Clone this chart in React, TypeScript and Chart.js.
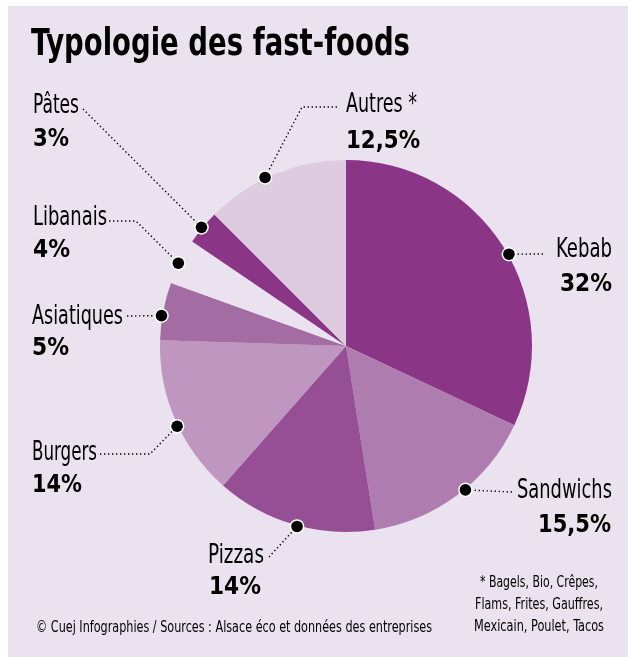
import React, { useEffect, useRef } from 'react';
import { Chart, registerables } from 'chart.js';

Chart.register(...registerables);

// ---- data ----
const title = 'Typologie des fast-foods';
const categories = ['Kebab', 'Sandwichs', 'Pizzas', 'Burgers', 'Asiatiques', 'Libanais', 'Pâtes', 'Autres *'];
const shares = [32, 15.5, 14, 14, 5, 4, 3, 12.5];
const shareLabels = ['32%', '15,5%', '14%', '14%', '5%', '4%', '3%', '12,5%'];
const footnoteLines = ['* Bagels, Bio, Crêpes,', 'Flams, Frites, Gauffres,', 'Mexicain, Poulet, Tacos'];
const sourceText = '© Cuej Infographies / Sources : Alsace éco et données des entreprises';

// ---- styles / layout ----
const sliceColors = ['#8A3586', '#AE7CAE', '#964F95', '#BE96C0', '#A36CA3', '#EAE2EE', '#8A3586', '#DDCBE0'];
const BG = '#EAE2EE';
const COND = "'Liberation Sans Narrow', 'DejaVu Sans Condensed', 'Liberation Sans', sans-serif";

type Lay = {
  align: 'left' | 'right';
  x: number; nameY: number; nameW: number;
  pctX: number; pctY: number; pctW: number;
  t: number; // fraction along the slice arc for the dot
  path: number[][]; // leader points from text to dot
};

const labelLayout: Lay[] = [
  { align: 'right', x: 612, nameY: 257, nameW: 56, pctX: 612, pctY: 291, pctW: 52, t: 0.526, path: [[543, 254]] },
  { align: 'right', x: 612, nameY: 498, nameW: 95, pctX: 611, pctY: 532, pctW: 73, t: 0.45, path: [[512, 492]] },
  { align: 'left', x: 208, nameY: 563, nameW: 56, pctX: 209, pctY: 594, pctW: 52, t: 0.48, path: [[269, 557]] },
  { align: 'left', x: 32, nameY: 460, nameW: 65, pctX: 32, pctY: 492, pctW: 50, t: 0.46, path: [[100, 454], [150, 454]] },
  { align: 'left', x: 32, nameY: 324, nameW: 91, pctX: 32, pctY: 355, pctW: 37, t: 0.42, path: [[127, 316]] },
  { align: 'left', x: 33, nameY: 225, nameW: 74, pctX: 33, pctY: 257, pctW: 37, t: 0.45, path: [[109, 221], [136, 221]] },
  { align: 'left', x: 33, nameY: 113, nameW: 46, pctX: 33, pctY: 146, pctW: 36, t: 0.48, path: [[83, 109]] },
  { align: 'left', x: 346, nameY: 112, nameW: 71, pctX: 346, pctY: 148, pctW: 74, t: 0.43, path: [[337, 107], [302, 107]] },
];

function drawFitted(
  ctx: CanvasRenderingContext2D, text: string, x: number, y: number,
  font: string, width: number, align: 'left' | 'right' | 'center'
) {
  ctx.save();
  ctx.font = font;
  ctx.textAlign = 'left';
  ctx.textBaseline = 'alphabetic';
  const m = ctx.measureText(text).width || 1;
  const s = width / m;
  const left = align === 'right' ? x - width : align === 'center' ? x - width / 2 : x;
  ctx.translate(left, y);
  ctx.scale(s, 1);
  ctx.fillStyle = '#000';
  ctx.fillText(text, 0, 0);
  ctx.restore();
}

const backgroundPlugin = {
  id: 'panelBg',
  beforeDraw(chart: any) {
    const ctx: CanvasRenderingContext2D = chart.ctx;
    ctx.save();
    ctx.fillStyle = '#ffffff';
    ctx.fillRect(0, 0, chart.width, chart.height);
    ctx.fillStyle = BG;
    ctx.fillRect(8, 6, chart.width - 8, chart.height - 6);
    ctx.restore();
  },
};

const annotationPlugin = {
  id: 'annotations',
  afterDraw(chart: any) {
    const ctx: CanvasRenderingContext2D = chart.ctx;
    const meta = chart.getDatasetMeta(0);

    // title
    drawFitted(ctx, title, 31, 55, `bold 37px ${COND}`, 379, 'left');

    // dots positions
    const dots = meta.data.map((arc: any, i: number) => {
      const p = arc.getProps(['x', 'y', 'startAngle', 'endAngle', 'outerRadius'], true);
      const a = p.startAngle + (p.endAngle - p.startAngle) * labelLayout[i].t;
      const r = p.outerRadius + 1;
      return [p.x + Math.cos(a) * r, p.y + Math.sin(a) * r];
    });

    // leader lines
    ctx.save();
    ctx.strokeStyle = '#000';
    ctx.lineWidth = 1.4;
    ctx.setLineDash([1.4, 2.6]);
    labelLayout.forEach((L, i) => {
      const pts = [...L.path, dots[i]];
      ctx.beginPath();
      ctx.moveTo(pts[0][0], pts[0][1]);
      for (let k = 1; k < pts.length; k++) ctx.lineTo(pts[k][0], pts[k][1]);
      ctx.stroke();
    });
    ctx.restore();

    // dots
    dots.forEach((d: number[]) => {
      ctx.save();
      ctx.beginPath();
      ctx.arc(d[0], d[1], 7.3, 0, Math.PI * 2);
      ctx.fillStyle = '#ffffff';
      ctx.fill();
      ctx.beginPath();
      ctx.arc(d[0], d[1], 5.8, 0, Math.PI * 2);
      ctx.fillStyle = '#000000';
      ctx.fill();
      ctx.restore();
    });

    // labels
    labelLayout.forEach((L, i) => {
      drawFitted(ctx, categories[i], L.x, L.nameY, `26px ${COND}`, L.nameW, L.align);
      drawFitted(ctx, shareLabels[i], L.pctX, L.pctY, `bold 25px ${COND}`, L.pctW, L.align);
    });

    // footnote & source
    const fnWidths = [118, 128, 130];
    footnoteLines.forEach((line, k) => {
      drawFitted(ctx, line, 539, 587 + k * 22, `16px ${COND}`, fnWidths[k], 'center');
    });
    drawFitted(ctx, sourceText, 36, 632, `16px ${COND}`, 396, 'left');
  },
};

export default function App() {
  const ref = useRef<HTMLCanvasElement | null>(null);
  useEffect(() => {
    if (!ref.current) return;
    const chart = new Chart(ref.current, {
      type: 'pie',
      data: {
        labels: categories,
        datasets: [
          {
            data: shares,
            backgroundColor: sliceColors,
            borderWidth: 0,
            hoverOffset: 0,
          },
        ],
      },
      options: {
        responsive: false,
        animation: false,
        events: [],
        layout: { padding: { left: 160, right: 96, top: 160, bottom: 125 } },
        plugins: {
          legend: { display: false },
          tooltip: { enabled: false },
          title: { display: false },
        },
      },
      plugins: [backgroundPlugin, annotationPlugin],
    });
    return () => chart.destroy();
  }, []);
  return (
    <div style={{ position: 'absolute', left: 0, top: 0, width: 628, height: 657 }}>
      <canvas ref={ref} width={628} height={657} style={{ display: 'block' }} />
    </div>
  );
}
